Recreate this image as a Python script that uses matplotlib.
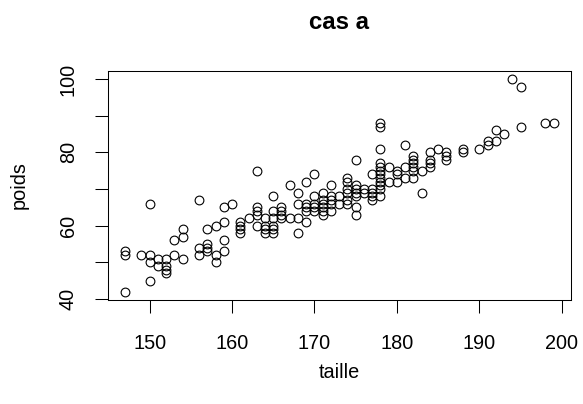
import matplotlib
matplotlib.use("Agg")
import matplotlib.pyplot as plt

plt.rcParams['font.family'] = ['Liberation Sans', 'DejaVu Sans']

# ------------------------------
# Données
# ------------------------------
taille = [
    147, 147, 147,
    149,
    150, 150, 150, 150,
    151, 151,
    152, 152, 152, 152,
    153, 153,
    154, 154, 154,
    156, 156, 156,
    157, 157, 157, 157,
    158, 158, 158,
    159, 159, 159, 159,
    160,
    161, 161, 161, 161,
    162,
    163, 163, 163, 163, 163,
    164, 164, 164, 164,
    165, 165, 165, 165, 165, 165,
    166, 166, 166, 166,
    167, 167,
    168, 168, 168, 168,
    169, 169, 169, 169, 169,
    170, 170, 170, 170, 170,
    171, 171, 171, 171, 171, 171,
    172, 172, 172, 172, 172,
    173, 173,
    174, 174, 174, 174, 174, 174,
    175, 175, 175, 175, 175, 175, 175,
    176, 176,
    177, 177, 177, 177, 177,
    178, 178, 178, 178, 178, 178, 178, 178, 178, 178, 178, 178,
    179, 179,
    180, 180, 180,
    181, 181, 181,
    182, 182, 182, 182, 182, 182,
    183, 183,
    184, 184, 184, 184,
    185,
    186, 186, 186,
    188, 188,
    190,
    191, 191,
    192, 192,
    193,
    194,
    195, 195,
    198,
    199,
]

poids = [
    42, 52, 53,
    52,
    45, 50, 52, 66,
    49, 51,
    47, 48, 49, 51,
    52, 56,
    51, 57, 59,
    52, 54, 67,
    53, 54, 55, 59,
    50, 52, 60,
    53, 56, 61, 65,
    66,
    58, 59, 60, 61,
    62,
    60, 63, 64, 65, 75,
    58, 59, 60, 62,
    58, 59, 60, 62, 64, 68,
    62, 63, 64, 65,
    62, 71,
    58, 62, 66, 69,
    61, 64, 65, 66, 72,
    64, 65, 66, 68, 74,
    63, 64, 65, 66, 67, 69,
    64, 66, 67, 68, 71,
    66, 68,
    66, 67, 69, 70, 72, 73,
    63, 65, 68, 69, 70, 71, 78,
    69, 70,
    67, 68, 69, 70, 74,
    68, 70, 71, 72, 73, 74, 75, 76, 77, 81, 87, 88,
    72, 76,
    72, 74, 75,
    73, 76, 82,
    73, 75, 76, 77, 78, 79,
    69, 75,
    76, 77, 78, 80,
    81,
    78, 79, 80,
    80, 81,
    81,
    82, 83,
    83, 86,
    85,
    100,
    87, 98,
    88,
    88,
]

x_ticks = [150, 160, 170, 180, 190, 200]
y_ticks = [40, 50, 60, 70, 80, 90, 100]
y_labels = ['40', '', '60', '', '80', '', '100']

# ------------------------------
# Graphique
# ------------------------------
fig = plt.figure(figsize=(5.83, 4.04), dpi=100)
ax = fig.add_axes([0.1847, 0.2574, 0.7943, 0.5676])

ax.plot(taille, poids, linestyle='none', marker='o', markersize=6.3,
        markerfacecolor='none', markeredgecolor='black', markeredgewidth=0.8)
ax.margins(x=0.04, y=0.04)

ax.set_xticks(x_ticks)
ax.set_yticks(y_ticks)
ax.set_yticklabels(y_labels, rotation=90, va='center')
ax.tick_params(axis='both', direction='out', length=9.5, width=0.75,
               labelsize=14.3, pad=12)
ax.tick_params(axis='x', pad=15)
for s in ax.spines.values():
    s.set_linewidth(0.75)

ax.set_title("cas a", fontsize=17.3, fontweight='bold', pad=30)
ax.set_xlabel("taille", fontsize=14.3, labelpad=7)
ax.set_ylabel("poids", fontsize=14.3, labelpad=22)

fig.savefig("out.png", dpi=100)
